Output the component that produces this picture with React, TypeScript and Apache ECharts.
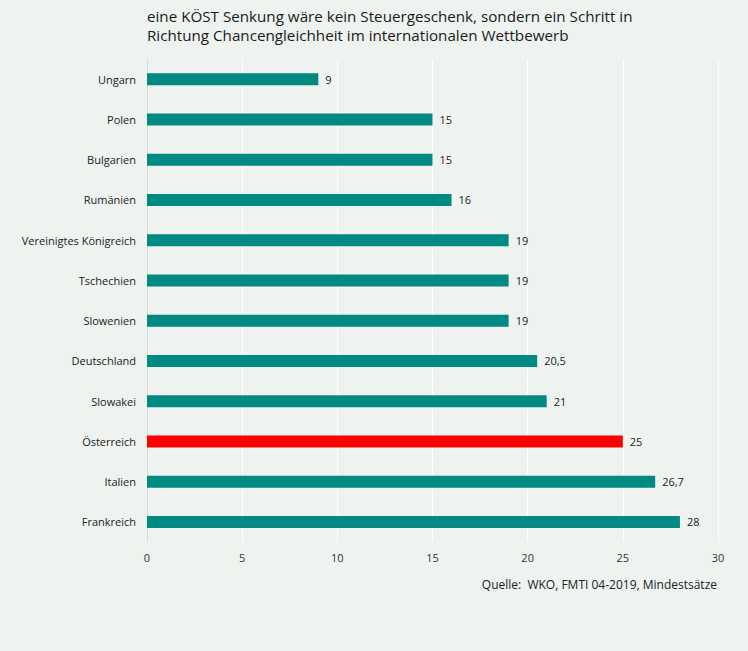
import React, { useEffect, useRef } from "react";
import * as echarts from "echarts";

const countries = [
  "Ungarn",
  "Polen",
  "Bulgarien",
  "Rumänien",
  "Vereinigtes Königreich",
  "Tschechien",
  "Slowenien",
  "Deutschland",
  "Slowakei",
  "Österreich",
  "Italien",
  "Frankreich",
];
const rates = [9, 15, 15, 16, 19, 19, 19, 20.5, 21, 25, 26.7, 28];
const highlight = "Österreich";
const xTicks = [0, 5, 10, 15, 20, 25, 30];

const titleText =
  "eine KÖST Senkung wäre kein Steuergeschenk, sondern ein Schritt in\nRichtung Chancengleichheit im internationalen Wettbewerb";
const sourceText = "Quelle:  WKO, FMTI 04-2019, Mindestsätze";

export default function App() {
  const ref = useRef<HTMLDivElement>(null);
  useEffect(() => {
    if (!ref.current) return;
    const chart = echarts.init(ref.current, null, { renderer: "svg" });
    const font = "'Open Sans', 'DejaVu Sans', sans-serif";
    chart.setOption({
      animation: false,
      backgroundColor: "#eef3f0",
      title: {
        text: titleText,
        left: 142,
        top: 1,
        textStyle: {
          fontFamily: font,
          fontSize: 15.2,
          fontWeight: "normal",
          color: "#1a1a1a",
          lineHeight: 19,
        },
      },
      grid: { left: 147, right: 30, top: 59, bottom: 109 },
      xAxis: {
        type: "value",
        min: xTicks[0],
        max: xTicks[xTicks.length - 1],
        interval: 5,
        axisLine: { show: false },
        axisTick: { show: false },
        splitLine: { show: true, lineStyle: { color: "#ffffff", width: 1 } },
        axisLabel: { fontFamily: font, fontSize: 11, color: "#333", margin: 10 },
      },
      yAxis: {
        type: "category",
        inverse: true,
        data: countries,
        axisLine: { show: true, lineStyle: { color: "#d6dbd8" } },
        axisTick: { show: false },
        axisLabel: { fontFamily: font, fontSize: 11, color: "#222", margin: 11 },
      },
      series: [
        {
          type: "bar",
          barWidth: 12,
          data: rates.map((v, i) => ({
            value: v,
            itemStyle: { color: countries[i] === highlight ? "#ff0000" : "#008a82" },
          })),
          label: {
            show: true,
            position: "right",
            distance: 7,
            fontFamily: font,
            fontSize: 11,
            color: "#222",
            formatter: (p: any) => String(p.value).replace(".", ","),
          },
        },
      ],
      graphic: [
        {
          type: "text",
          right: 31,
          top: 578,
          style: {
            text: sourceText,
            fontFamily: font,
            fontSize: 12,
            fill: "#222",
          },
        },
      ],
    });
    return () => chart.dispose();
  }, []);
  return <div ref={ref} style={{ width: 748, height: 651, position: "absolute", left: 0, top: 0 }} />;
}
